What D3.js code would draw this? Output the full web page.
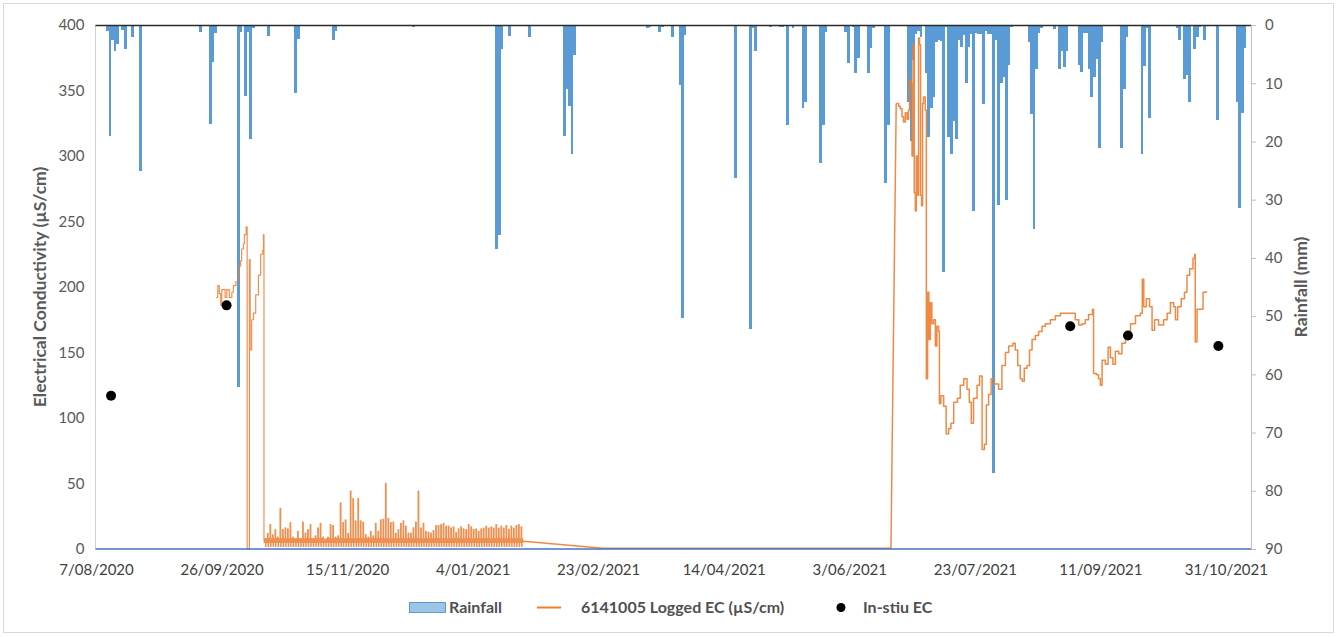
<!DOCTYPE html>
<html><head><meta charset="utf-8">
<script src="https://cdn.jsdelivr.net/npm/d3@7"></script>
<style>
body{margin:0;background:#fff}
svg{display:block}
text{font-family:Lato,"Open Sans","DejaVu Sans",sans-serif}
</style>
</head><body>
<svg id="chart" width="1338" height="637"></svg>
<script>
// ---------------- DATA ----------------
const START = "2020-08-07";
const END = "2021-11-10";
const xTickDates = ["2020-08-07","2020-09-26","2020-11-15","2021-01-04","2021-02-23","2021-04-14","2021-06-03","2021-07-23","2021-09-11","2021-10-31"];
const xTickLabels = ["7/08/2020","26/09/2020","15/11/2020","4/01/2021","23/02/2021","14/04/2021","3/06/2021","23/07/2021","11/09/2021","31/10/2021"];
const ecTicks = [0,50,100,150,200,250,300,350,400];
const rainTicks = [0,10,20,30,40,50,60,70,80,90];

// Daily rainfall (mm)
const rainDates = ["2020-08-11","2020-08-12","2020-08-13","2020-08-14","2020-08-15","2020-08-17","2020-08-18","2020-08-21","2020-08-24",
"2020-09-17","2020-09-21","2020-09-22","2020-09-23","2020-10-02","2020-10-03","2020-10-05","2020-10-06","2020-10-07","2020-10-08","2020-10-14",
"2020-10-25","2020-10-26","2020-11-09","2020-11-10","2020-12-11",
"2021-01-13","2021-01-14","2021-01-15","2021-01-18","2021-01-26",
"2021-02-09","2021-02-10","2021-02-11","2021-02-12","2021-02-13",
"2021-03-14","2021-03-15","2021-03-19","2021-03-20","2021-03-24","2021-03-27","2021-03-28","2021-03-29",
"2021-04-18","2021-04-24","2021-04-25","2021-04-26",
"2021-05-02","2021-05-06","2021-05-07","2021-05-09","2021-05-11","2021-05-15","2021-05-16","2021-05-22","2021-05-23","2021-05-24",
"2021-06-01","2021-06-02","2021-06-04","2021-06-05","2021-06-06","2021-06-10","2021-06-11","2021-06-12","2021-06-17","2021-06-18",
"2021-06-26","2021-06-27","2021-06-28","2021-06-29","2021-06-30",
"2021-07-01","2021-07-03","2021-07-04","2021-07-05","2021-07-06","2021-07-07","2021-07-08","2021-07-09","2021-07-10","2021-07-11",
"2021-07-12","2021-07-13","2021-07-14","2021-07-15","2021-07-16","2021-07-17","2021-07-18","2021-07-19","2021-07-20","2021-07-21",
"2021-07-22","2021-07-23","2021-07-24","2021-07-25","2021-07-26","2021-07-27","2021-07-28","2021-07-29","2021-07-30","2021-07-31",
"2021-08-01","2021-08-02","2021-08-03","2021-08-04","2021-08-05","2021-08-06",
"2021-08-13","2021-08-14","2021-08-15","2021-08-16","2021-08-17","2021-08-18","2021-08-23","2021-08-25","2021-08-26","2021-08-27","2021-08-28",
"2021-09-02","2021-09-03","2021-09-04","2021-09-05","2021-09-06","2021-09-07","2021-09-08","2021-09-09","2021-09-10","2021-09-11",
"2021-09-19","2021-09-20","2021-09-21","2021-09-27","2021-09-28","2021-09-29","2021-09-30",
"2021-10-11","2021-10-12","2021-10-14","2021-10-15","2021-10-16","2021-10-18","2021-10-19","2021-10-20","2021-10-22","2021-10-27",
"2021-11-04","2021-11-05","2021-11-06","2021-11-07"];
const rainMM = [1.0,19.1,2.6,4.5,3.3,0.9,4.1,2.1,25.1,
1.2,17,6.4,1.4,62.2,1.2,12.2,1.2,19.6,0.6,1.9,
11.7,2.4,2.6,1.0,0.3,
38.5,36.1,4.1,1.9,2.1,
19.1,11,13.9,22.1,5.2,
0.6,0.3,1.2,0.3,2.1,10.3,50.3,1.8,
26.3,52.2,0.6,4.5,
0.4,0.4,0.4,17.2,0.5,14.3,13.3,23.7,17.2,1.2,
1.2,6.5,0.4,8.3,5.7,8.3,3.9,0.6,27.1,17.2,
13.2,20,6,1.5,1,
2,8.3,19.2,14.3,12.3,3,2.5,2.7,42.5,0.3,
19.2,22.2,16.5,19.6,2.5,3.7,1.7,9.9,3.7,1.5,
32,1.3,1.5,1.5,13.6,1.1,1.5,1.5,77,2.6,
31,9.9,9,30,6.9,0.3,
3,15.3,35,7.6,1.4,0.6,0.7,7.6,4.4,7.2,4.4,
6.9,8.0,1.3,1.3,7.5,12.3,8.9,5.8,21.2,2.9,
21.1,11,2.1,22.1,7.1,0.5,16,
0.5,2.6,9.2,8.6,13.3,4.1,2.1,0.4,2.5,16.4,
13.3,31.4,15.1,3.9];

// Logged EC (µS/cm): day offsets from START and values
const ecDaysA = [47.8,48.5,49.1,49.7,50.1,50.5,51.4,52.1,53.1,54.1,54.7,55.7,56.5,57,57.6,58,58.7,59.1,59.8,60.2,61.0,61.1,61.4,62,62.7,63.6,64.7,65.6,66.4,66.7,66.9];
const ecValsA = [192,201,195,186,198,198,192,198,192,196,201,204,208,216,220,229,233,240,246,0,0,221,152,175,180,194,209,225,228,240,7];
// Daily peak values of the noisy low-EC period, days 67..169
const ecNoiseFirstDay = 67;
const ecNoisePeaks = [8,12,18.7,10.8,14.8,9,31,14.8,16.1,15.3,20.1,9,8,13.5,8,20.6,12.2,14.8,18.7,8,10,16.1,19.6,9,6.9,9,18.7,17.9,9,10,
35.3,20.1,22.2,12,44.2,38.4,21.4,38.4,21.4,20.6,11,9,13.5,10,19.6,13.5,22.2,22.7,50.2,23.2,20.1,20.6,12,14.8,19.6,21.4,17.4,12.2,12.2,16.1,
20.6,44.2,16.1,19.6,13.5,12.7,12.2,14,17.9,17.9,18.7,19.6,17.4,17.4,16.1,16.9,12.7,15.3,16.9,15.3,14.8,18.7,16.9,15,15.3,13.5,15.3,16,17.4,16,
17,16,18.7,16,17.4,16,17.9,15,17.4,16,17.9,18.7,17];
const ecNoiseBase = 5;
const ecNoiseLow = 2;
const ecDaysGap = [170.2,202,316.6,318.7];
const ecValsGap = [6,0.5,0.5,340];
const ecDaysD = [318.7,319.7,320.3,321,321.6,322.3,323,323.6,324,324.6,325,325.4,325.9,326.3,326.7,327.1,327.6,328,328.4,328.8,329.2,329.6,330.3,330.7,
331.2,331.7,332.3,332.9,333.6,334.3,334.9,335.6,335.9,336.5,337.6,338.6,339.6,340.5,341.6,343.1,344.2,345.6,346.9,347.8,348.6,349.5,350.9,351.9,
352.9,353.8,354.6,355.5,356.5,357.8,359.5,360.8,362.2,363.5,365.2,366.1,367.1,368.1,368.9,369.7,370.8,371.8,372.8,374.1,375.4,376.8,378.1,380.1,
382.1,384.1,386.1,388,389.4,390,391.4,392.7,394,395.3,396.9,397.3,398.4,399.3,400,400.7,402,403.1,404,405,406,407.3,408.6,410,412,414,415.9,416.7,
417.3,418.3,419.6,420.6,421.6,423.2,425.2,426.6,427.9,429.2,429.9,430.8,432.2,433.5,434.5,435.6,436.9,437.6,437.8,438.5,439.8,440.9,442.1];
const ecValsD = [340,338,336,330,326,333,328,335,358,355,300,385,272,258,300,270,390,385,270,262,340,345,335,130,
196,160,188,172,175,155,170,166,111,117,109,88,92,96,112,115,125,130,122,112,96,115,125,132,
76,80,110,118,130,126,122,140,150,155,157,152,140,130,128,138,140,152,160,163,166,170,172,175,
178,180,180,180,180,175,171,172,175,179,183,134,133,130,125,144,141,154,146,141,151,149,157,163,172,178,180,206,
185,191,185,167,175,171,175,180,188,185,175,185,191,196,209,214,222,225,158,183,183,196,197];

// In-situ EC
const insituDates = ["2020-08-13","2020-09-28","2021-08-30","2021-09-22","2021-10-28"];
const insituEC = [117,186,170,163,155];

// ---------------- CHART ----------------
const parse = d3.timeParse("%Y-%m-%d");
const t0 = parse(START);
const DAY = 86400000;
const fromOffset = d => new Date(t0.getTime() + d*DAY);

const L = 95.5, R = 1251, T = 25, B = 549;
const svg = d3.select("#chart");

svg.append("rect").attr("x",3.5).attr("y",3.5).attr("width",1330).attr("height",629)
  .attr("fill","#fff").attr("stroke","#d9d9d9").attr("stroke-width",1);

const x = d3.scaleTime().domain([t0, parse(END)]).range([96, R]);
const yEC = d3.scaleLinear().domain([0,400]).range([B,T]);
const yRain = d3.scaleLinear().domain([0,90]).range([T,B]);

// rainfall bars
const rain = rainDates.map((d,i)=>({date:parse(d), v:rainMM[i]}));
svg.append("g").attr("shape-rendering","crispEdges").selectAll("rect").data(rain).join("rect")
  .attr("x", d=>x(d.date))
  .attr("width", d=>x(d3.timeDay.offset(d.date,1))-x(d.date)+0.4)
  .attr("y", yRain(0))
  .attr("height", d=>yRain(d.v)-yRain(0))
  .attr("fill","#5b9bd5");

// axes lines
svg.append("line").attr("x1",L).attr("x2",L).attr("y1",T).attr("y2",B).attr("stroke","#d0d0d0").attr("stroke-width",1);
svg.append("line").attr("x1",L).attr("x2",R).attr("y1",T+0.5).attr("y2",T+0.5).attr("stroke","#2b2b2b").attr("stroke-width",1.3);

// EC logged line
const ecPts = [];
ecDaysA.forEach((d,i)=>ecPts.push([d, ecValsA[i]]));
ecNoisePeaks.forEach((p,i)=>{
  const d = ecNoiseFirstDay + i;
  ecPts.push([d, ecNoiseBase]);
  ecPts.push([d+0.3, p]);
  ecPts.push([d+0.55, ecNoiseLow]);
  ecPts.push([d+0.7, ecNoiseBase + 3]);
  ecPts.push([d+0.85, ecNoiseBase]);
});
const stepLine = d3.line().x(d=>x(fromOffset(d[0]))).y(d=>yEC(d[1])).curve(d3.curveStepAfter);
const linLine = d3.line().x(d=>x(fromOffset(d[0]))).y(d=>yEC(d[1]));
const ecStyle = p => p.attr("fill","none").attr("stroke","#ed7d31").attr("stroke-width",1.5).attr("stroke-linejoin","round").attr("opacity",0.9);
svg.append("path").attr("d", stepLine(ecPts)).call(ecStyle).attr("stroke-width",1.2).attr("opacity",0.85);
const gapPts = [[ecPts[ecPts.length-1][0], ecNoiseBase]].concat(ecDaysGap.map((d,i)=>[d, ecValsGap[i]]));
svg.append("path").attr("d", linLine(gapPts)).call(ecStyle);
svg.append("path").attr("d", stepLine(ecDaysD.map((d,i)=>[d, ecValsD[i]]))).call(ecStyle);

// bottom baseline (blue)
svg.append("line").attr("x1",L).attr("x2",R).attr("y1",B).attr("y2",B).attr("stroke","#4472c4").attr("stroke-width",1.5);

// in-situ dots
svg.append("g").selectAll("circle").data(insituDates.map((d,i)=>({date:parse(d), v:insituEC[i]}))).join("circle")
  .attr("cx", d=>x(d.date)).attr("cy", d=>yEC(d.v)).attr("r",5).attr("fill","#000");

// left axis
const gL = svg.append("g").attr("transform",`translate(${L},0)`)
  .call(d3.axisLeft(yEC).tickValues(ecTicks).tickSize(0).tickPadding(11));
gL.select(".domain").remove();
gL.selectAll("text").attr("fill","#595959").style("font-size","15px");

// right axis
const gR = svg.append("g").attr("transform",`translate(${R},0)`)
  .call(d3.axisRight(yRain).tickValues(rainTicks).tickSize(5).tickPadding(9));
gR.select(".domain").attr("stroke","#bfbfbf");
gR.selectAll("line").attr("stroke","#bfbfbf");
gR.selectAll("text").attr("fill","#595959").style("font-size","15px");

// bottom axis labels
const gB = svg.append("g").attr("transform",`translate(0,${B})`)
  .call(d3.axisBottom(x).tickValues(xTickDates.map(parse)).tickFormat((d,i)=>xTickLabels[i]).tickSize(0).tickPadding(15));
gB.select(".domain").remove();
gB.selectAll("text").attr("fill","#404040").style("font-size","15px");

// axis titles
svg.append("text").attr("transform","translate(46,287) rotate(-90)").attr("text-anchor","middle")
  .attr("fill","#595959").style("font-size","17.5px").style("font-weight","bold").text("Electrical Conductivity (µS/cm)");
svg.append("text").attr("transform","translate(1307,287) rotate(-90)").attr("text-anchor","middle")
  .attr("fill","#595959").style("font-size","17.5px").style("font-weight","bold").text("Rainfall (mm)");

// legend
const lg = svg.append("g").style("font-size","16px").style("font-weight","bold").attr("fill","#505050");
lg.append("rect").attr("x",409.5).attr("y",602.5).attr("width",36).attr("height",10).attr("fill","#9dc3e6").attr("stroke","#5b9bd5");
lg.append("text").attr("x",449).attr("y",613).text("Rainfall");
lg.append("line").attr("x1",537).attr("x2",561).attr("y1",607.5).attr("y2",607.5).attr("stroke","#ed7d31").attr("stroke-width",2);
lg.append("text").attr("x",581).attr("y",613).text("6141005 Logged EC (µS/cm)");
lg.append("circle").attr("cx",841).attr("cy",607.5).attr("r",4.5).attr("fill","#000");
lg.append("text").attr("x",863).attr("y",613).text("In-stiu EC");
</script>
</body></html>
